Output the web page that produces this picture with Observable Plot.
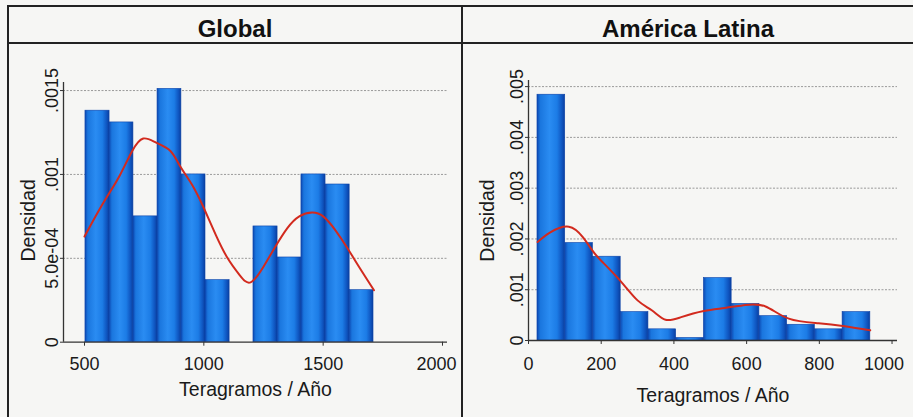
<!DOCTYPE html>
<html>
<head>
<meta charset="utf-8">
<script src="https://cdn.jsdelivr.net/npm/d3@7"></script>
<script src="https://cdn.jsdelivr.net/npm/@observablehq/plot@0.6"></script>
<style>
  body { margin: 0; background: #f6f6f4; font-family: "Liberation Sans", Arial, sans-serif; }
  #wrap { position: relative; width: 913px; height: 417px; overflow: hidden; background: #f6f6f4; }
  .hl { position: absolute; height: 2px; background: #222; }
  .vl { position: absolute; width: 2px; background: #222; }
  .title { position: absolute; top: 7px; height: 36px; line-height: 44px; text-align: center;
           font-weight: bold; font-size: 24px; color: #111; }
  .panel { position: absolute; top: 45px; }
  .panel svg { overflow: visible; }
</style>
</head>
<body>
<div id="wrap">
  <div class="hl" style="left:8px;right:0;top:5px"></div>
  <div class="hl" style="left:8px;right:0;top:42px"></div>
  <div class="vl" style="left:7px;top:5px;bottom:0"></div>
  <div class="title" style="left:9px;width:452px">Global</div>
  <div class="title" style="left:463px;width:450px">América Latina</div>
  <div class="panel" id="g" style="left:10px"></div>
  <div class="panel" id="la" style="left:464px"></div>
  <div class="vl" style="left:461px;top:5px;bottom:0"></div>
</div>
<script>
// ---------- Data: Global ----------
const globalEdges = [504, 605, 705, 806, 906, 1007, 1108, 1208, 1309, 1409, 1510, 1611, 1711];
const globalDensity = [0.00138, 0.00131, 0.00075, 0.00151, 0.00100, 0.00037, 0, 0.00069, 0.000505, 0.00100, 0.00094, 0.00031];
const globalCurveX = [500, 550, 600, 650, 700, 746, 800, 860, 900, 950, 1000, 1050, 1100, 1150, 1196, 1250, 1300, 1350, 1400, 1454, 1500, 1550, 1600, 1650, 1713];
const globalCurveY = [0.00063, 0.00076, 0.00088, 0.00100, 0.00114, 0.001214, 0.00119, 0.00114, 0.00105, 0.00094, 0.00080, 0.00064, 0.00050, 0.00040, 0.000357, 0.00045, 0.00057, 0.00068, 0.00075, 0.000773, 0.00075, 0.00067, 0.000565, 0.00045, 0.00031];
const globalXTicks = [500, 1000, 1500, 2000];
const globalXTickLabels = ["500", "1000", "1500", "2000"];
const globalYTicks = [0, 0.0005, 0.001, 0.0015];
const globalYTickLabels = ["0", "5.0e-04", ".001", ".0015"];

// ---------- Data: América Latina ----------
const laEdges = [24.7, 101, 177.3, 253.6, 329.9, 406.2, 482.5, 558.8, 635.1, 711.4, 787.7, 864, 940.3];
const laDensity = [0.00484, 0.00192, 0.00165, 0.00056, 0.00022, 0.00005, 0.00123, 0.00072, 0.00048, 0.00031, 0.00022, 0.00056];
const laCurveX = [25, 60, 111, 150, 176, 200, 252, 300, 340, 377, 420, 482, 540, 597, 652, 716, 798, 870, 940];
const laCurveY = [0.00194, 0.00213, 0.00224, 0.00203, 0.00177, 0.00157, 0.00118, 0.00079, 0.00059, 0.00041, 0.00046, 0.00058, 0.00064, 0.00070, 0.00067, 0.00043, 0.00034, 0.00028, 0.00020];
const laXTicks = [0, 200, 400, 600, 800, 1000];
const laXTickLabels = ["0", "200", "400", "600", "800", "1000"];
const laYTicks = [0, 0.001, 0.002, 0.003, 0.004, 0.005];
const laYTickLabels = ["0", ".001", ".002", ".003", ".004", ".005"];

const xLabel = "Teragramos / Año";
const yLabel = "Densidad";

function addGradient(svg, id) {
  const ns = "http://www.w3.org/2000/svg";
  const defs = document.createElementNS(ns, "defs");
  const g = document.createElementNS(ns, "linearGradient");
  g.setAttribute("id", id);
  g.setAttribute("x1", "0"); g.setAttribute("x2", "1");
  g.setAttribute("y1", "0"); g.setAttribute("y2", "0");
  [[0, "#0c48b2"], [0.12, "#1a76de"], [0.45, "#2a8cf2"], [0.72, "#1c7ce6"], [0.9, "#0f55c0"], [1, "#0a3f9f"]]
    .forEach(([o, c]) => {
      const s = document.createElementNS(ns, "stop");
      s.setAttribute("offset", o);
      s.setAttribute("stop-color", c);
      g.appendChild(s);
    });
  defs.appendChild(g);
  svg.insertBefore(defs, svg.firstChild);
}

function drawPanel(cfg) {
  const bins = cfg.density.map((d, i) => ({x1: cfg.edges[i], x2: cfg.edges[i + 1], y: d})).filter(b => b.y > 0);
  const curve = cfg.curveX.map((x, i) => ({x, y: cfg.curveY[i]}));
  const xFmt = new Map(cfg.xTicks.map((t, i) => [t, cfg.xTickLabels[i]]));
  const yFmt = new Map(cfg.yTicks.map((t, i) => [t, cfg.yTickLabels[i]]));
  const innerTicks = cfg.xTicks.slice(0, -1);
  const lastTick = cfg.xTicks.slice(-1);
  const gradId = cfg.id + "-grad";
  const axisOpts = {tickSize: 4, tickPadding: cfg.xPad, tickFormat: d => xFmt.get(d), fontSize: 18, label: null, stroke: "#333"};
  const svg = Plot.plot({
    width: cfg.width, height: cfg.height,
    marginLeft: cfg.ml, marginRight: cfg.mr, marginTop: cfg.mt, marginBottom: cfg.mb,
    x: {domain: cfg.xDomain, axis: null},
    y: {domain: cfg.yDomain, axis: null},
    style: {background: "transparent", fontFamily: "'Liberation Sans', Arial, sans-serif", fontSize: "18px", color: "#1a1a1a", overflow: "visible"},
    marks: [
      Plot.ruleY(cfg.yTicks.filter(t => t > 0), {stroke: "#9a9a9a", strokeWidth: 1, strokeDasharray: "2,1.5"}),
      Plot.rectY(bins, {x1: "x1", x2: "x2", y: "y", fill: `url(#${gradId})`, stroke: "#0d43a8", strokeWidth: 0.6}),
      Plot.line(curve, {x: "x", y: "y", stroke: "#d22a1e", strokeWidth: 2, curve: "natural"}),
      Plot.ruleX([cfg.xDomain[0]], {stroke: "#333", strokeWidth: 1.3}),
      Plot.ruleY([0], {stroke: "#333", strokeWidth: 1.3}),
      Plot.axisX(innerTicks, axisOpts),
      Plot.axisX(lastTick, {...axisOpts, text: null}),
      Plot.axisX(lastTick, {...axisOpts, tickSize: 0, tickPadding: cfg.xPad + 4, dx: cfg.lastDx}),
      Plot.axisY(cfg.yTicks, {tickSize: 3, tickPadding: 3, tickRotate: -90, tickFormat: d => yFmt.get(d), fontSize: 18, label: null, stroke: "#333"}),
      Plot.text([xLabel], {text: d => d, frameAnchor: "bottom", dy: cfg.xLabelDy, fontSize: 19.5, lineAnchor: "middle", fill: "#1a1a1a"}),
      Plot.text([yLabel], {text: d => d, frameAnchor: "left", dx: cfg.yLabelDx, dy: cfg.yLabelDy, rotate: -90, fontSize: 19.5, lineAnchor: "middle", textAnchor: "middle", fill: "#1a1a1a"})
    ]
  });
  addGradient(svg, gradId);
  document.getElementById(cfg.id).appendChild(svg);
}

drawPanel({
  id: "g", width: 450, height: 372, ml: 53, mr: 13, mt: 37, mb: 75.3,
  edges: globalEdges, density: globalDensity, curveX: globalCurveX, curveY: globalCurveY,
  xDomain: [412, 2021], yDomain: [0, 0.001548],
  xTicks: globalXTicks, xTickLabels: globalXTickLabels, yTicks: globalYTicks, yTickLabels: globalYTickLabels,
  xPad: 11, lastDx: -6, xLabelDy: 47.3, yLabelDx: -35, yLabelDy: 8
});
drawPanel({
  id: "la", width: 449, height: 372, ml: 64, mr: 16, mt: 35, mb: 77,
  edges: laEdges, density: laDensity, curveX: laCurveX, curveY: laCurveY,
  xDomain: [0, 1015], yDomain: [0, 0.00512],
  xTicks: laXTicks, xTickLabels: laXTickLabels, yTicks: laYTicks, yTickLabels: laYTickLabels,
  xPad: 13, lastDx: -8, xLabelDy: 55.7, yLabelDx: -40.5, yLabelDy: 10
});
</script>
</body>
</html>
